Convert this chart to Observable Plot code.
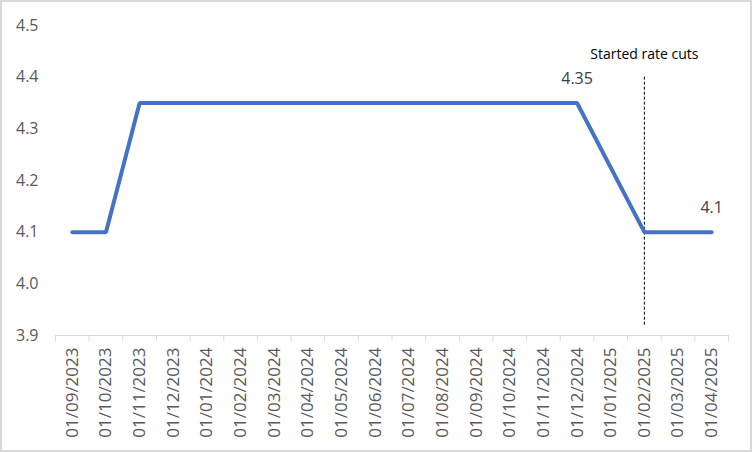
<!DOCTYPE html>
<html>
<head>
<meta charset="utf-8">
<script src="https://cdn.jsdelivr.net/npm/d3@7"></script>
<script src="https://cdn.jsdelivr.net/npm/@observablehq/plot@0.6"></script>
<style>
  body { margin: 0; background: #fff; }
  #chart svg { display: block; outline: 2px solid #d9d9d9; outline-offset: -2px; }
</style>
</head>
<body>
<div id="chart"></div>
<script>
// ---- data ----
const dates = [
  "01/09/2023","01/10/2023","01/11/2023","01/12/2023",
  "01/01/2024","01/02/2024","01/03/2024","01/04/2024","01/05/2024","01/06/2024",
  "01/07/2024","01/08/2024","01/09/2024","01/10/2024","01/11/2024","01/12/2024",
  "01/01/2025","01/02/2025","01/03/2025","01/04/2025"
];
// 01/01/2025 has no value (line connects across it)
const rates = [
  4.1, 4.1, 4.35, 4.35,
  4.35, 4.35, 4.35, 4.35, 4.35, 4.35,
  4.35, 4.35, 4.35, 4.35, 4.35, 4.35,
  null, 4.1, 4.1, 4.1
];
const yTicks = [3.9, 4.0, 4.1, 4.2, 4.3, 4.4, 4.5];
const labelDates = ["01/12/2024", "01/04/2025"];
const labelValues = [4.35, 4.1];
const labelTexts = ["4.35", "4.1"];
const cutDate = "01/02/2025";
const cutText = "Started rate cuts";
const cutRange = [3.92, 4.4];

// ---- chart ----
const W = 752, H = 452, mL = 55, mR = 24, mT = 25, mB = 117;
const bw = (W - mL - mR) / dates.length;
const lineData = dates.map((d, i) => ({date: d, rate: rates[i]})).filter(d => d.rate != null);
const labels = labelDates.map((d, i) => ({date: d, rate: labelValues[i], text: labelTexts[i]}));

const chart = Plot.plot({
  width: W, height: H,
  marginLeft: mL, marginRight: mR, marginTop: mT, marginBottom: mB,
  style: {fontFamily: "'Open Sans', sans-serif", fontSize: "16px", color: "#595959", background: "#fff"},
  x: {type: "band", domain: dates, padding: 0, round: false, label: null},
  y: {domain: [yTicks[0], yTicks[yTicks.length - 1]], label: null},
  marks: [
    Plot.axisY({ticks: yTicks, tickFormat: d => d.toFixed(1), tickSize: 0, tickPadding: 17, fontSize: 16, label: null}),
    Plot.axisX({tickSize: 0, tickPadding: 12, tickRotate: -90, fontSize: 17, label: null}),
    Plot.ruleY([yTicks[0]], {stroke: "#d9d9d9", strokeWidth: 1}),
    Plot.ruleX(dates, {x: d => d, y1: yTicks[0], y2: yTicks[0], insetBottom: -6, dx: -bw / 2, stroke: "#d9d9d9"}),
    Plot.ruleX([dates[dates.length - 1]], {x: d => d, y1: yTicks[0], y2: yTicks[0], insetBottom: -6, dx: bw / 2, stroke: "#d9d9d9"}),
    Plot.ruleX([cutDate], {x: d => d, y1: cutRange[0], y2: cutRange[1], stroke: "#000", strokeWidth: 1, strokeDasharray: "3,2"}),
    Plot.line(lineData, {x: "date", y: "rate", stroke: "#4472C4", strokeWidth: 4, strokeLinejoin: "miter", strokeLinecap: "round"}),
    Plot.text(labels, {x: "date", y: "rate", text: "text", dy: -24, fill: "#404040", fontSize: 16}),
    Plot.text([cutText], {x: () => cutDate, y: () => cutRange[1], text: d => d, dy: -23, fill: "#000", fontSize: 14})
  ]
});
document.getElementById("chart").append(chart);
</script>
</body>
</html>
